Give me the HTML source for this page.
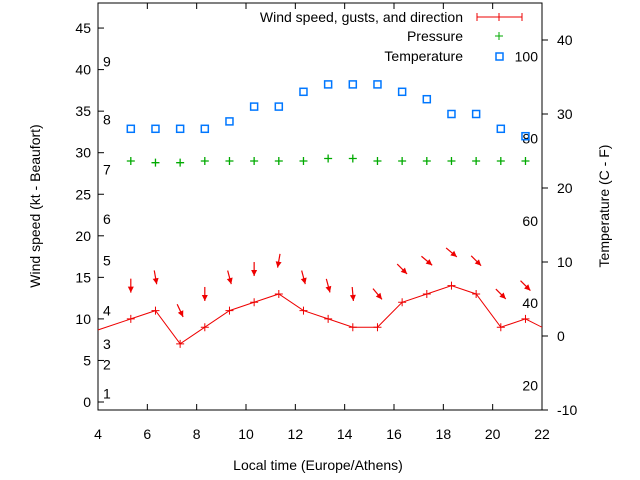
<!DOCTYPE html>
<html><head><meta charset="utf-8"><style>
body{margin:0;background:#fff}
svg{display:block;font-family:"Liberation Sans",sans-serif;font-size:14px}
</style></head><body>
<svg id="chart" width="640" height="480" viewBox="0 0 640 480">
<g id="axes"></g><g id="marks"></g>
</svg>
<script>
const hours=[5.33,6.33,7.33,8.33,9.33,10.33,11.33,12.33,13.33,14.33,15.33,16.33,17.33,18.33,19.33,20.33,21.33];
const windLineX=[3.33,5.33,6.33,7.33,8.33,9.33,10.33,11.33,12.33,13.33,14.33,15.33,16.33,17.33,18.33,19.33,20.33,21.33,22.33];
const windLineY=[8,10,11,7,9,11,12,13,11,10,9,9,12,13,14,13,9,10,8.5];
const arrowLevel=[14,15,11,13,15,16,17,15,14,13,13,16,17,18,17,13,14];
const arrowDir=[0,10,25,0,15,0,-10,15,15,5,40,45,50,50,45,45,45];
const pressure=[29,28.8,28.8,29,29,29,29,29,29.3,29.3,29,29,29,29,29,29,29];
const tempC=[28,28,28,28,29,31,31,33,34,34,34,33,32,30,30,28,27];
const xTicks=[4,6,8,10,12,14,16,18,20,22];
const yTicks=[0,5,10,15,20,25,30,35,40,45];
const y2Ticks=[-10,0,10,20,30,40];
const beaufort=[1,2,3,4,5,6,7,8,9];
const beaufortKt=[1,4.5,7,11,17,22,28,34,41];
const fTicks=[20,40,60,80,100];

const L=98,R=542,T=3,B=410;
const X=v=>L+(v-4)*(R-L)/18;
const Y=v=>402-v*8.31;
const Y2=c=>336-c*7.4;
const NS='http://www.w3.org/2000/svg';
const axes=document.getElementById('axes'),marks=document.getElementById('marks');
function el(tag,attrs,parent,text){const e=document.createElementNS(NS,tag);for(const k in attrs)e.setAttribute(k,attrs[k]);if(text!==undefined)e.textContent=text;parent.appendChild(e);return e;}

let f=el('rect',{x:L,y:T,width:R-L,height:B-T,fill:'none',stroke:'#000','stroke-width':1},axes);


xTicks.forEach(v=>{
 let t=el('text',{x:X(v),y:439,'text-anchor':'middle'},axes,String(v));
 
 
 el('line',{x1:X(v),x2:X(v),y1:B,y2:B-6,stroke:'#000'},axes);
 el('line',{x1:X(v),x2:X(v),y1:T,y2:T+6,stroke:'#000'},axes);
});
yTicks.forEach(v=>{
 let t=el('text',{x:91,y:Y(v)+5,'text-anchor':'end'},axes,String(v));
 
 
 el('line',{x1:L,x2:L+6,y1:Y(v),y2:Y(v),stroke:'#000'},axes);
});
y2Ticks.forEach(v=>{
 let t=el('text',{x:557,y:Y2(v)+5},axes,String(v));
 
 
 el('line',{x1:R,x2:R+6,y1:Y2(v),y2:Y2(v),stroke:'#000'},axes);
});
beaufort.forEach((b,i)=>{
 let t=el('text',{x:103,y:Y(beaufortKt[i])+5},axes,String(b));
 
 
});
fTicks.forEach(v=>{
 let c=(v-32)/1.8;
 let t=el('text',{x:538,y:Y2(c)+5,'text-anchor':'end'},axes,String(v));
 
 
});
let xt=el('text',{x:318,y:470,'text-anchor':'middle'},axes,'Local time (Europe/Athens)');


let yt=el('text',{x:40,y:206,'text-anchor':'middle',transform:'rotate(-90 40 206)'},axes,'Wind speed (kt - Beaufort)');


let y2t=el('text',{x:609,y:206,'text-anchor':'middle',transform:'rotate(-90 609 206)'},axes,'Temperature (C - F)');



[['Wind speed, gusts, and direction',17],['Pressure',36],['Temperature',56]].forEach(([s,y])=>{
 let t=el('text',{x:463,y:y+5,'text-anchor':'end'},axes,s);
 
 
});
el('path',{d:'M477 17H522M477 13V21M499 13V21M522 13V21',stroke:'#e00',fill:'none'},axes);
el('path',{d:'M495 36h8M499 32v8',stroke:'#0a0',fill:'none'},axes);
el('rect',{x:496,y:53,width:7,height:7,stroke:'#07f',fill:'none','stroke-width':1.5},axes);

const defs=el('defs',{},marks);
const cp=el('clipPath',{id:'pc'},defs);
el('rect',{x:L,y:T,width:R-L,height:B-T},cp);
const g=el('g',{'clip-path':'url(#pc)'},marks);

let pts=windLineX.map((x,i)=>X(x)+','+Y(windLineY[i])).join(' ');
let wl=el('polyline',{points:pts,fill:'none',stroke:'#e00','stroke-width':1},g);


windLineX.forEach((x,i)=>{
 let p=el('path',{d:`M${X(x)-4} ${Y(windLineY[i])}h8M${X(x)} ${Y(windLineY[i])-4}v8`,stroke:'#e00'},g);
 
 
});
hours.forEach((h,i)=>{
 const cx=X(h),cy=Y(arrowLevel[i]),a=arrowDir[i]*Math.PI/180,len=14;
 const dx=Math.sin(a)*len/2,dy=Math.cos(a)*len/2;
 const x1=cx-dx,y1=cy-dy,x2=cx+dx,y2=cy+dy;
 const ux=dx/(len/2),uy=dy/(len/2);
 const hx=x2-ux*6,hy=y2-uy*6;
 let ag=el('g',{},g);
 
 
 el('line',{x1,y1,x2,y2,stroke:'#e00','stroke-width':1.2},ag);
 el('polygon',{points:`${x2},${y2} ${hx-uy*3},${hy+ux*3} ${hx+uy*3},${hy-ux*3}`,fill:'#e00'},ag);
});
pressure.forEach((p,i)=>{
 let m=el('path',{d:`M${X(hours[i])-4} ${Y(p)}h8M${X(hours[i])} ${Y(p)-4}v8`,stroke:'#0a0','stroke-width':1.3},g);
 
 
});
tempC.forEach((c,i)=>{
 let m=el('rect',{x:X(hours[i])-3.5,y:Y2(c)-3.5,width:7,height:7,fill:'none',stroke:'#07f','stroke-width':1.5},g);
 
 
});
</script>
</body></html>
